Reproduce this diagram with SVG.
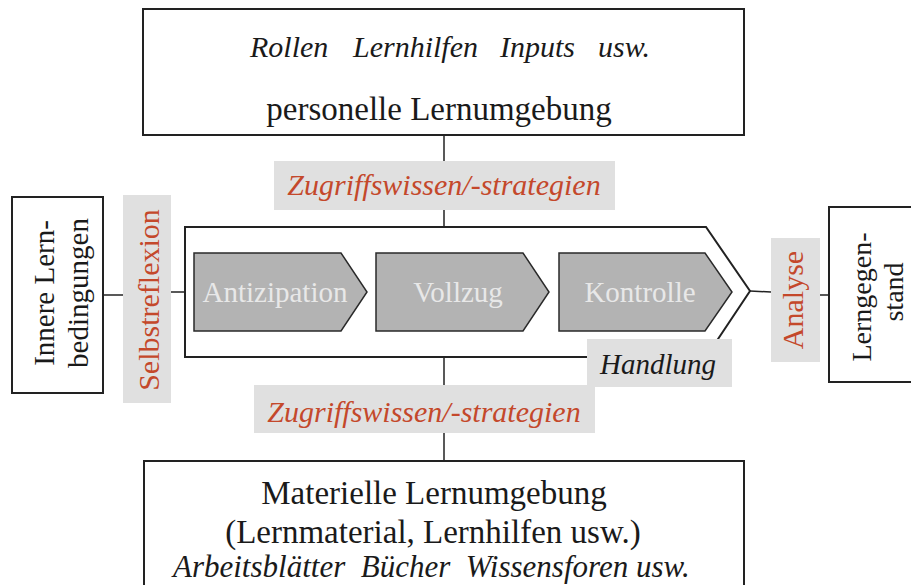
<svg xmlns="http://www.w3.org/2000/svg" width="911" height="585" viewBox="0 0 911 585">
<style>
.box{fill:#fff;stroke:#222;stroke-width:2}
.lab{fill:#e0e0e0}
.chev{fill:#b3b3b3;stroke:#2a2a2a;stroke-width:1.5}
.ln{stroke:#222;stroke-width:1.5;fill:none}
.t{font-family:"Liberation Serif","Times New Roman",serif;fill:#1a1a1a}
.it{font-style:italic}
.or{fill:#c4482b;font-style:italic}
.ct{fill:#e8e8e8;font-size:29px;text-anchor:middle}
</style>
<rect width="911" height="585" fill="#fff"/>
<g id="connectors">
<line class="ln" x1="444" y1="135" x2="444" y2="161"/>
<line class="ln" x1="444" y1="210" x2="444" y2="227"/>
<line class="ln" x1="444" y1="357" x2="444" y2="385"/>
<line class="ln" x1="444" y1="433" x2="444" y2="461"/>
<line class="ln" x1="103" y1="295" x2="123" y2="295"/>
<line class="ln" x1="171" y1="292" x2="185" y2="292"/>
<line class="ln" x1="750" y1="291" x2="771" y2="292"/>
<line class="ln" x1="820" y1="295" x2="829" y2="295"/>
</g>
<g id="personelle">
<rect class="box" x="143" y="9" width="601" height="126"/>
<text class="t it" x="250" y="57" font-size="30">Rollen</text>
<text class="t it" x="353" y="57" font-size="30">Lernhilfen</text>
<text class="t it" x="500" y="57" font-size="30">Inputs</text>
<text class="t it" x="598" y="57" font-size="30">usw.</text>
<text class="t" x="439" y="120" font-size="33" text-anchor="middle">personelle Lernumgebung</text>
</g>
<g id="zugriff-oben">
<rect class="lab" x="274" y="161" width="341" height="49"/>
<text class="t or" x="444" y="195" font-size="30" text-anchor="middle">Zugriffswissen/-strategien</text>
</g>
<g id="handlung">
<path class="ln" d="M185,227 H706 L750,291 L706,357 H185 Z" style="stroke-width:2"/>
</g>
<g id="antizipation">
<path class="chev" d="M194,253 H341 L367,292 L341,331 H194 Z"/>
<text class="t ct" x="275" y="302">Antizipation</text>
</g>
<g id="vollzug">
<path class="chev" d="M376,253 H523 L549,292 L523,331 H376 Z"/>
<text class="t ct" x="458" y="302">Vollzug</text>
</g>
<g id="kontrolle">
<path class="chev" d="M559,253 H705 L732,292 L705,331 H559 Z"/>
<text class="t ct" x="640" y="302">Kontrolle</text>
</g>
<g id="handlung-label">
<rect class="lab" x="587" y="339" width="145" height="48"/>
<text class="t it" x="658" y="374" font-size="29" text-anchor="middle">Handlung</text>
</g>
<g id="innere">
<rect class="box" x="12" y="197" width="91" height="196"/>
<text class="t" transform="translate(54,293) rotate(-90)" font-size="29" text-anchor="middle">Innere Lern-</text>
<text class="t" transform="translate(88,293) rotate(-90)" font-size="29" text-anchor="middle">bedingungen</text>
</g>
<g id="selbstreflexion">
<rect class="lab" x="123" y="195" width="48" height="208"/>
<text class="t" transform="translate(159,300) rotate(-90)" font-size="30" style="fill:#c4482b" text-anchor="middle">Selbstreflexion</text>
</g>
<g id="analyse">
<rect class="lab" x="771" y="238" width="49" height="124"/>
<text class="t" transform="translate(803,300) rotate(-90)" font-size="30" style="fill:#c4482b" text-anchor="middle">Analyse</text>
</g>
<g id="lerngegenstand">
<rect class="box" x="829" y="207" width="90" height="175"/>
<text class="t" transform="translate(871,297) rotate(-90)" font-size="28" text-anchor="middle">Lerngegen-</text>
<text class="t" transform="translate(903,292) rotate(-90)" font-size="28" text-anchor="middle">stand</text>
</g>
<g id="zugriff-unten">
<rect class="lab" x="254" y="385" width="341" height="48"/>
<text class="t or" x="424" y="422" font-size="30" text-anchor="middle">Zugriffswissen/-strategien</text>
</g>
<g id="materielle">
<rect class="box" x="144" y="461" width="600" height="140"/>
<text class="t" x="434" y="504" font-size="33" text-anchor="middle">Materielle Lernumgebung</text>
<text class="t" x="433" y="543" font-size="33" text-anchor="middle">(Lernmaterial, Lernhilfen usw.)</text>
<text class="t it" x="173" y="577" font-size="31" style="white-space:pre">Arbeitsblätter  Bücher  Wissensforen usw.</text>
</g>
</svg>
